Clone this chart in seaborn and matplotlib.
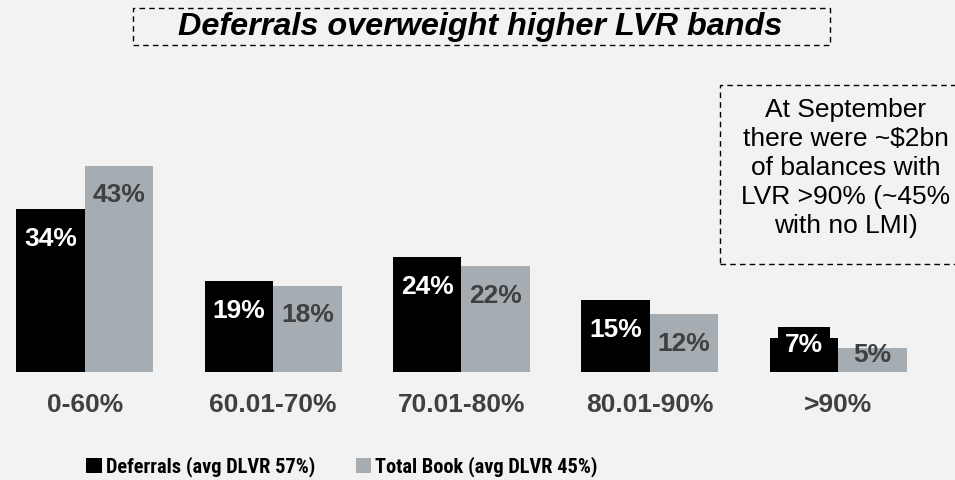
import seaborn as sns
import matplotlib.pyplot as plt
import pandas as pd
from matplotlib import font_manager
from matplotlib.patches import Rectangle

bands = ["0-60%", "60.01-70%", "70.01-80%", "80.01-90%", ">90%"]
deferrals = [34, 19, 24, 15, 7]
total_book = [43, 18, 22, 12, 5]
series_names = ["Deferrals (avg DLVR 57%)", "Total Book (avg DLVR 45%)"]

BG = "#f2f2f2"
BLACK = "#000000"
GREY = "#a5acb2"
DARK = "#404040"

sns.set_style("white")
plt.rcParams["font.family"] = ["Liberation Sans", "DejaVu Sans"]
plt.rcParams["text.color"] = "black"

# legend in the original uses a narrow face; take one if there is one
names = {f.name for f in font_manager.fontManager.ttflist}
narrow = "Liberation Sans"
for cand in ["Liberation Sans Narrow", "Roboto Condensed", "Open Sans Condensed"]:
    if cand in names:
        narrow = cand
        break
leg_size = 14.7 if narrow != "Liberation Sans" else 12.5

df = pd.DataFrame({
    "band": bands * 2,
    "value": deferrals + total_book,
    "series": [series_names[0]] * len(bands) + [series_names[1]] * len(bands),
})

fig = plt.figure(figsize=(9.55, 4.8), dpi=100, facecolor=BG)
ax = fig.add_axes([0, 0.225, 1, 0.5])
ax.set_facecolor(BG)

sns.barplot(data=df, x="band", y="value", hue="series", order=bands,
            hue_order=series_names, palette=[BLACK, GREY], width=0.727,
            saturation=1, linewidth=0, ax=ax, legend=True)

ax.set_xlim(-0.45, 4.62)
ax.set_ylim(0, 50)
ax.set_xlabel("")
ax.set_ylabel("")
ax.set_yticks([])
for s in ax.spines.values():
    s.set_visible(False)
ax.tick_params(axis="x", length=0, pad=15)
for t in ax.get_xticklabels():
    t.set_fontsize(19)
    t.set_fontweight("bold")
    t.set_color(DARK)

# value labels inside the bars
for container, color in zip(ax.containers, ["white", DARK]):
    for bar in container:
        v = bar.get_height()
        pad = 21.5 if v >= 10 else 5
        box = None
        if v < 10 and color == "white":
            box = dict(boxstyle="square,pad=0.25", facecolor=BLACK, edgecolor="none")
        ax.annotate(f"{v:.0f}%", xy=(bar.get_x() + bar.get_width() / 2, v),
                    xytext=(0, -pad), textcoords="offset points",
                    ha="center", va="center", fontsize=19, fontweight="bold",
                    color=color, bbox=box)

handles, labels = ax.get_legend_handles_labels()
ax.get_legend().remove()
fig.legend(handles, labels, loc="center", bbox_to_anchor=(0.358, 0.027),
           ncol=2, frameon=False, handlelength=0.75, handleheight=0.75,
           handletextpad=0.2, columnspacing=2.0,
           prop=dict(family=narrow, weight="bold", size=leg_size))

# title with dashed box
fig.text(0.503, 1 - 27 / 480, "Deferrals overweight higher LVR bands", ha="center",
         va="center", fontsize=23.3, fontweight="bold", fontstyle="italic",
         color="black")
fig.patches.append(Rectangle((133 / 955, 1 - 45 / 480), 697 / 955, 37 / 480,
                             transform=fig.transFigure, fill=False,
                             edgecolor="black", linestyle=(0, (4, 3)), linewidth=1))

# side note with dashed box
fig.text(846 / 955, 1 - 168 / 480,
         "At September\nthere were ~$2bn\nof balances with\nLVR >90% (~45%\nwith no LMI)",
         ha="center", va="center", fontsize=19, linespacing=1.27, color="black")
fig.patches.append(Rectangle((720 / 955, 1 - 264 / 480), 240 / 955, 179 / 480,
                             transform=fig.transFigure, fill=False,
                             edgecolor="black", linestyle=(0, (4, 3)), linewidth=1))

fig.savefig("out.png", dpi=100, facecolor=BG)
